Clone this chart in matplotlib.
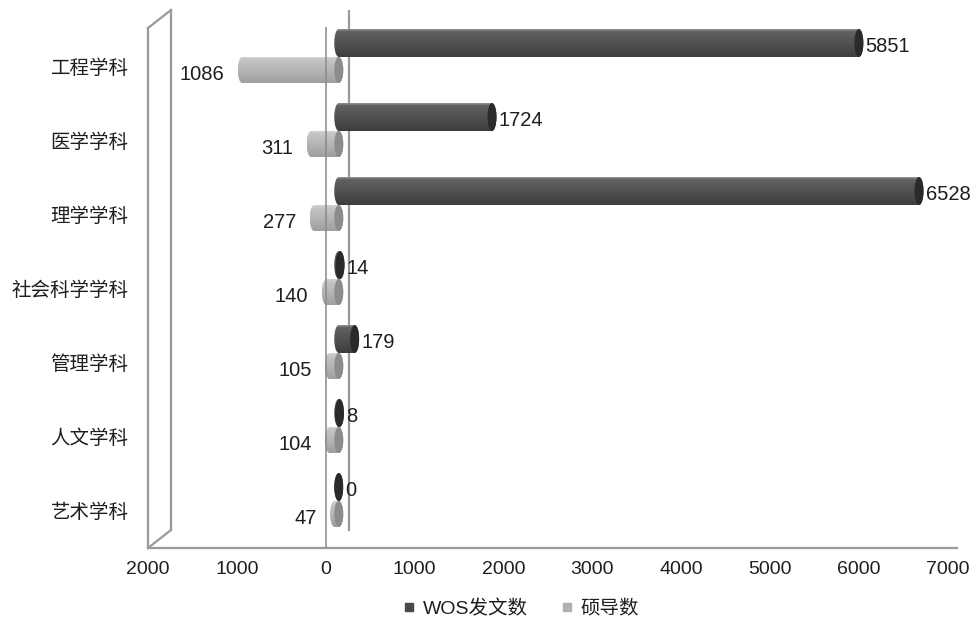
import numpy as np
import matplotlib
matplotlib.use('Agg')
import matplotlib.pyplot as plt
from matplotlib.patches import Ellipse, Polygon
from matplotlib.lines import Line2D

plt.rcParams['font.family'] = ['Liberation Sans', 'Noto Sans CJK SC', 'DejaVu Sans']

categories = ['工程学科', '医学学科', '理学学科', '社会科学学科', '管理学科', '人文学科', '艺术学科']
wos = [5851, 1724, 6528, 14, 179, 8, 0]
tutors = [1086, 311, 277, 140, 105, 104, 47]
xticks = [-2000, -1000, 0, 1000, 2000, 3000, 4000, 5000, 6000, 7000]

# pixel -> data helpers (x: 89 px per 1000, y: 74 px per category)
PX = 1000 / 89.0
PY = 1 / 74.0

off = 13 * PX      # bars sit mid-depth
cap = 4.5 * PX     # half width of the end ellipses
dep_x = 23 * PX    # back wall offset
dep_y = -18 * PY

fig = plt.figure(figsize=(9.76, 6.26), dpi=100)
ax = fig.add_axes([148 / 976, 78 / 626, 800 / 976, 538 / 626])
ymax = 6.5
ymin = (28 - 67) * PY
ax.set_xlim(-2000, 7000)
ax.set_ylim(ymax, ymin + dep_y)
for s in ax.spines.values():
    s.set_visible(False)

wall = '#9a9a9a'
# left side wall
ax.plot([-2000, -2000], [ymax, ymin], color=wall, lw=1.6, clip_on=False)
ax.plot([-2000 + dep_x] * 2, [ymax + dep_y, ymin + dep_y], color=wall, lw=1.6, clip_on=False)
ax.plot([-2000, -2000 + dep_x], [ymin, ymin + dep_y], color=wall, lw=1.6, clip_on=False)
ax.plot([-2000, -2000 + dep_x], [ymax, ymax + dep_y], color=wall, lw=1.6, clip_on=False)
# floor front edge
ax.plot([-2000, 7100], [ymax, ymax], color=wall, lw=1.6, clip_on=False)
# back zero line
ax.plot([dep_x, dep_x], [ymax + dep_y, ymin + dep_y], color=wall, lw=1.6, zorder=1)


def cylinder(x0, x1, yc, h, stops, face):
    b = h / 2
    t1 = np.linspace(np.pi / 2, 3 * np.pi / 2, 40)
    t2 = np.linspace(-np.pi / 2, np.pi / 2, 40)
    xs = np.concatenate([x0 + cap * np.cos(t1), x1 + cap * np.cos(t2)])
    ys = np.concatenate([yc - b * np.sin(t1), yc - b * np.sin(t2)])
    poly = Polygon(np.column_stack([xs, ys]), closed=True, facecolor='none', edgecolor='none')
    ax.add_patch(poly)
    pos = np.linspace(0, 1, 60)
    vals = np.interp(pos, [s[0] for s in stops], [s[1] for s in stops])
    img = ax.imshow(vals.reshape(-1, 1), cmap='gray', vmin=0, vmax=1, aspect='auto',
                    extent=(x0 - cap, x1 + cap, yc + b, yc - b), origin='upper', zorder=3)
    img.set_clip_path(poly)
    ax.add_patch(Ellipse((x1, yc), 2 * cap, h, facecolor=face, edgecolor='none', zorder=4))


dark_stops = [(0, 0.58), (0.08, 0.38), (0.5, 0.32), (1, 0.24)]
light_stops = [(0, 0.82), (0.1, 0.77), (0.5, 0.71), (1, 0.62)]

for i in range(len(categories)):
    yd = i - 24 * PY
    yg = i + 3 * PY
    cylinder(off, off + wos[i], yd, 28 * PY, dark_stops, '#2a2a2a')
    cylinder(off - tutors[i], off, yg, 26 * PY, light_stops, '#8c8c8c')
    ax.text(off + wos[i] + cap + 25, yd + 3 * PY, str(wos[i]), ha='left', va='center',
            fontsize=14.5, color='#1e1e1e', zorder=5)
    ax.text(off - tutors[i] - cap - 150, yg + 4 * PY, str(tutors[i]), ha='right', va='center',
            fontsize=14.5, color='#1e1e1e', zorder=5)

# front zero line
ax.plot([0, 0], [ymax, ymin], color='#8a8a8a', lw=1.4, alpha=0.8, zorder=6)

ax.set_xticks(xticks)
ax.set_xticklabels([str(abs(v)) for v in xticks])
ax.set_yticks(range(len(categories)))
ax.set_yticklabels(categories)
ax.tick_params(axis='x', length=0, pad=9, labelsize=14, labelcolor='#1e1e1e')
ax.tick_params(axis='y', length=0, pad=14, labelsize=14, labelcolor='#1e1e1e')
ax.set_xlim(-2000, 7000)
ax.set_ylim(ymax, ymin + dep_y)

handles = [Line2D([], [], marker='s', ls='', color='#4a4a4a', markersize=6),
           Line2D([], [], marker='s', ls='', color='#b0b0b0', markersize=6)]
fig.legend(handles, ['WOS发文数', '硕导数'], loc='center', bbox_to_anchor=(0.527, 0.027),
           ncol=2, frameon=False, fontsize=14, handletextpad=-0.3, columnspacing=1.0,
           labelcolor='#1e1e1e')

fig.savefig('out.png', dpi=100)
